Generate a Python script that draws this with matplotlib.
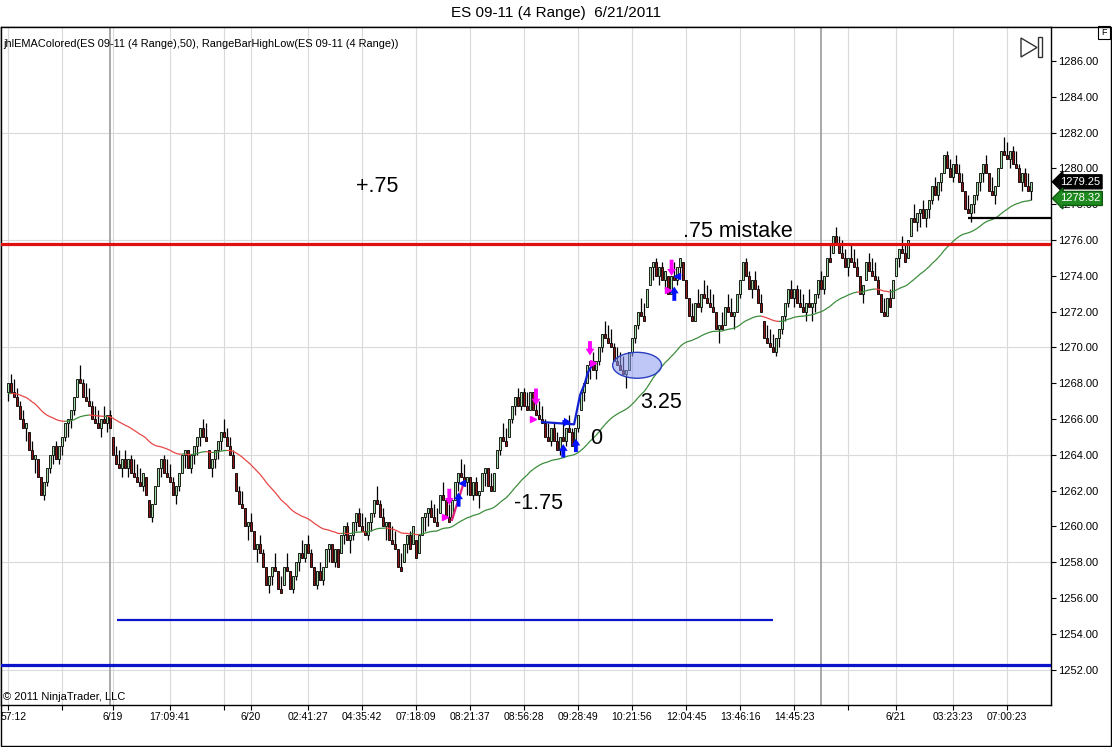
import matplotlib
matplotlib.use('Agg')
import matplotlib.pyplot as plt
import matplotlib.transforms as mtransforms
from matplotlib.collections import LineCollection
from matplotlib.patches import Ellipse, Polygon, Rectangle
import numpy as np

plt.rcParams['font.family'] = ['Liberation Sans', 'DejaVu Sans']

# closes of the 4-tick range bars (one per bar)
closes = [
    1268.0, 1267.5, 1267.25, 1266.75, 1266.0, 1265.5, 1265.75, 1264.25, 1263.75, 1264.0, 1262.75, 1261.75,
    1262.5, 1263.25, 1264.0, 1264.5, 1263.75, 1264.5, 1265.0, 1265.75, 1266.0, 1266.5, 1267.25, 1268.25,
    1268.0, 1267.25, 1267.0, 1266.75, 1266.0, 1265.75, 1265.5, 1266.0, 1265.75, 1266.25, 1265.5, 1264.0,
    1263.5, 1263.25, 1263.75, 1263.25, 1263.75, 1263.0, 1262.75, 1262.5, 1262.25, 1263.0, 1261.75, 1260.5,
    1261.25, 1262.25, 1263.25, 1263.75, 1263.0, 1262.75, 1262.5, 1261.75, 1262.25, 1263.0, 1264.0, 1264.25,
    1263.25, 1264.0, 1264.5, 1265.0, 1265.5, 1265.0, 1264.75, 1263.25, 1263.75, 1264.25, 1264.75, 1265.25,
    1265.0, 1264.5, 1264.0, 1263.25, 1262.0, 1261.25, 1261.0, 1260.0, 1260.25, 1259.75, 1258.75, 1259.0,
    1258.5, 1257.75, 1256.75, 1257.25, 1257.75, 1257.5, 1256.5, 1256.25, 1257.75, 1257.5, 1256.5, 1257.25,
    1258.0, 1258.5, 1258.25, 1259.0, 1258.5, 1257.75, 1256.75, 1257.5, 1257.0, 1257.75, 1258.75, 1259.0,
    1258.0, 1258.75, 1257.75, 1259.5, 1260.0, 1259.25, 1259.5, 1260.25, 1260.75, 1260.0, 1259.75, 1259.5,
    1260.25, 1260.75, 1261.5, 1261.25, 1260.5, 1260.0, 1260.25, 1259.25, 1259.0, 1258.75, 1257.75, 1257.5,
    1259.0, 1259.5, 1258.75, 1260.0, 1258.25, 1259.5, 1260.5, 1260.75, 1261.0, 1260.5, 1260.25, 1260.0,
    1261.75, 1261.5, 1260.5, 1260.25, 1261.5, 1262.5, 1263.0, 1262.75, 1262.5, 1262.75, 1261.75, 1262.5,
    1261.75, 1262.0, 1263.0, 1263.25, 1262.25, 1262.0, 1263.0, 1264.25, 1265.0, 1264.75, 1264.5, 1266.0,
    1266.75, 1267.25, 1266.75, 1267.5, 1266.75, 1266.5, 1267.5, 1266.5, 1266.25, 1266.0, 1265.75, 1265.0,
    1264.75, 1265.5, 1264.75, 1264.25, 1265.0, 1264.75, 1265.5, 1265.25, 1264.5, 1265.5, 1266.25, 1267.5,
    1268.0, 1269.0, 1269.25, 1268.75, 1269.25, 1270.0, 1270.75, 1270.5, 1270.25, 1270.0, 1269.25, 1269.0,
    1268.75, 1268.5, 1268.75, 1269.75, 1270.5, 1271.25, 1272.0, 1271.75, 1271.5, 1273.25, 1274.5, 1274.75,
    1274.0, 1274.5, 1273.75, 1274.25, 1273.0, 1274.0, 1273.75, 1274.5, 1275.0, 1273.75, 1272.75, 1271.75,
    1271.5, 1272.5, 1272.25, 1273.0, 1272.75, 1272.5, 1272.25, 1272.0, 1271.0, 1271.25, 1271.0, 1272.25,
    1272.0, 1271.75, 1272.0, 1273.0, 1273.75, 1274.75, 1274.0, 1273.25, 1273.75, 1273.25, 1272.5, 1272.0,
    1270.5, 1270.25, 1270.0, 1269.75, 1270.5, 1271.0, 1271.75, 1272.5, 1273.25, 1272.75, 1273.25, 1272.5,
    1272.25, 1272.0, 1272.5, 1272.25, 1272.5, 1273.0, 1273.75, 1273.25, 1274.0, 1275.0, 1274.75, 1276.25,
    1275.75, 1275.25, 1275.0, 1274.5, 1275.0, 1274.75, 1274.5, 1274.0, 1273.0, 1273.5, 1274.75, 1274.25,
    1274.0, 1273.75, 1273.0, 1272.0, 1271.75, 1272.75, 1272.25, 1273.75, 1275.0, 1275.5, 1275.25, 1274.75,
    1276.0, 1277.25, 1277.0, 1277.5, 1277.75, 1277.25, 1277.75, 1278.25, 1279.0, 1278.5, 1279.25, 1279.75,
    1280.75, 1280.0, 1279.5, 1280.25, 1279.75, 1279.25, 1278.75, 1277.75, 1277.5, 1278.0, 1278.5, 1279.25,
    1279.75, 1280.25, 1279.75, 1278.75, 1278.5, 1279.0, 1280.0, 1281.0, 1280.75, 1280.5, 1281.0, 1280.25,
    1280.0, 1279.25, 1279.75, 1279.0, 1278.75, 1279.25,
]
assert len(closes) == 342

bar_range = 1.0          # 4 ticks
ema_period = 50
ema_seed = 1267.4        # EMA value at the left edge of the chart
last_ema = 1278.32

tick_bars = [0, 18, 35, 54, 72, 81, 100, 118, 136, 154, 172, 190, 208, 226, 244, 262, 280, 296, 315, 333]
tick_labels = ['57:12', '', '6/19', '17:09:41', '', '6/20', '02:41:27', '04:35:42', '07:18:09',
               '08:21:37', '08:56:28', '09:28:49', '10:21:56', '12:04:45', '13:46:16', '14:45:23',
               '', '6/21', '03:23:23', '07:00:23']
session_breaks = [34, 271]

# drawn levels
red_level = 1275.75
blue_low_level = 1252.25
blue_mid_level = 1254.75
blue_mid_span = [36.3, 255]
black_level = 1277.25
black_start = 320

# ---- bars ----
c = np.array(closes)
n = len(c)
idx = np.arange(n)
prev = np.r_[c[0] - 0.5, c[:-1]]
up = c >= prev
low = np.where(up, c - bar_range, c)
high = low + bar_range
opn = np.clip(prev, low, high)

alpha = 2.0 / (ema_period + 1)
ema = np.empty(n)
e = ema_seed
for k in range(n):
    e = e + alpha * (c[k] - e)
    ema[k] = e

fig = plt.figure(figsize=(11.12, 7.47), dpi=100)
fig.patch.set_facecolor('white')
ax = fig.add_axes([1 / 1112, 42 / 747, 1050 / 1112, 678 / 747])
ax.set_xlim(-2.33, 347.67)
ax.set_ylim(1250.02, 1287.9)

# grid
for gy in np.arange(1252, 1287, 6):
    ax.axhline(gy, color='#dadada', lw=0.8, zorder=0)
for tb in tick_bars:
    ax.axvline(tb, color='#dadada', lw=0.8, zorder=0)
for sb in session_breaks:
    ax.axvline(sb, color='#a8a8a8', lw=1.4, zorder=0.5)

# candles
ax.vlines(idx, low, high, color='black', lw=0.9, zorder=2)
body_bot = np.minimum(opn, c)
body_h = np.maximum(np.abs(c - opn), 0.05)
body_col = np.where(up, '#a8dca8', '#8b1414')
ax.bar(idx, body_h, bottom=body_bot, width=0.7, color=body_col, edgecolor='black',
       linewidth=0.6, zorder=3)

# EMA, red when falling, green when rising
pts = np.column_stack([idx, ema])
segs = np.stack([pts[:-1], pts[1:]], axis=1)
seg_col = ['#3a8c3a' if ema[k + 1] >= ema[k] else '#e84444' for k in range(n - 1)]
ax.add_collection(LineCollection(segs, colors=seg_col, linewidths=0.9, zorder=4))

# levels
ax.axhline(red_level, color='#e01010', lw=2.3, zorder=5)
ax.axhline(blue_low_level, color='#0a14c8', lw=2.3, zorder=5)
ax.hlines(blue_mid_level, blue_mid_span[0], blue_mid_span[1], color='#0a14c8', lw=1.6, zorder=5)
ax.hlines(black_level, black_start, 347.67, color='black', lw=1.6, zorder=5)

# trade markings
ax.add_patch(Ellipse((209.7, 1269.0), 16.3, 1.45, facecolor=(0.55, 0.6, 0.95, 0.55),
                     edgecolor='#2a3fbf', lw=1.0, zorder=6))
ax.plot([178, 188.7, 190.7, 192.3, 193.3, 195], [1265.83, 1265.7, 1267.34, 1268.0, 1268.6, 1269.1],
        color='#1020d0', lw=1.6, zorder=6)
ax.plot([148, 152], [1260.36, 1262.48], color='#e0207a', lw=1.6, zorder=6)


def block_arrow(tail, tip, color):
    ax.annotate('', xy=tip, xytext=tail, zorder=7,
                arrowprops=dict(arrowstyle='simple,head_width=0.9,head_length=0.7,tail_width=0.4',
                                color=color, lw=0, mutation_scale=7, shrinkA=0, shrinkB=0))


mag = '#ff00ff'
blu = '#0010ff'
block_arrow((147.1, 1262.1), (147.1, 1261.2), mag)
block_arrow((150.2, 1261.1), (150.2, 1261.9), blu)
block_arrow((176.0, 1267.7), (176.0, 1266.75), mag)
block_arrow((185.1, 1263.85), (185.1, 1264.6), blu)
block_arrow((189.3, 1264.15), (189.3, 1264.9), blu)
block_arrow((194.0, 1270.35), (194.0, 1269.55), mag)
block_arrow((221.2, 1274.9), (221.2, 1274.0), mag)
block_arrow((222.1, 1272.6), (222.1, 1273.4), blu)
block_arrow((184.8, 1265.83), (187.6, 1265.83), blu)
ax.plot([145.8, 174.9, 195.1, 220.1], [1260.5, 1266.0, 1269.1, 1273.2], ls='none', marker='>',
        ms=5, color=mag, zorder=7)
ax.plot([151.3, 222.9], [1262.4, 1274.0], ls='none', marker='<', ms=5, color=blu, zorder=7)

# hand written notes
note_kw = dict(fontsize=15.5, ha='center', va='center', zorder=8)
ax.text(123, 1279.0, '+.75', **note_kw)
ax.text(243.3, 1276.45, '.75 mistake', **note_kw)
ax.text(217.7, 1266.9, '3.25', **note_kw)
ax.text(196, 1264.9, '0', **note_kw)
ax.text(176.7, 1261.25, '-1.75', **note_kw)

ax.text(0.002, 0.005, '\u00a9 2011 NinjaTrader, LLC', transform=ax.transAxes, fontsize=8,
        ha='left', va='bottom')
ax.text(0.002, 0.982, 'jhlEMAColored(ES 09-11 (4 Range),50), RangeBarHighLow(ES 09-11 (4 Range))',
        transform=ax.transAxes, fontsize=7.9, ha='left', va='top')

# axes
for sp in ax.spines.values():
    sp.set_color('black')
    sp.set_linewidth(1.0)
ax.yaxis.tick_right()
ax.set_yticks(np.arange(1252, 1287, 2))
ax.set_yticklabels(['%.2f' % v for v in np.arange(1252, 1287, 2)])
ax.tick_params(axis='y', direction='out', length=3.5, width=0.8, labelsize=8, pad=1.5)
ax.set_xticks(tick_bars)
ax.set_xticklabels(tick_labels)
ax.tick_params(axis='x', direction='out', length=3.5, width=0.8, labelsize=7.5, pad=1.5)
first = ax.get_xticklabels()[0]
first.set_ha('left')
first.set_transform(first.get_transform() + mtransforms.ScaledTranslation(-5 / 72, 0, fig.dpi_scale_trans))

# price markers on the right axis
bt = mtransforms.blended_transform_factory(ax.transAxes, ax.transData)
ax.text(1.0085, c[-1], '%.2f' % c[-1], transform=bt, color='white', fontsize=8, ha='left', va='center',
        bbox=dict(boxstyle='larrow,pad=0.18', fc='black', ec='black'), zorder=10, clip_on=False)
ax.text(1.0085, last_ema, '%.2f' % last_ema, transform=bt, color='white', fontsize=8, ha='left',
        va='center', bbox=dict(boxstyle='larrow,pad=0.18', fc='#1f8a1f', ec='#0d5a0d'), zorder=10,
        clip_on=False)

# window chrome in pixel coordinates
ov = fig.add_axes([0, 0, 1, 1], zorder=-1)
ov.set_xlim(0, 1112)
ov.set_ylim(747, 0)
ov.axis('off')
ov.add_patch(Rectangle((0.5, 27), 1110.5, 719, fill=False, ec='black', lw=1.0))
fig.text(556 / 1112, 1 - 13 / 747, 'ES 09-11 (4 Range)  6/21/2011', ha='center', va='center', fontsize=11)

top = fig.add_axes([0, 0, 1, 1], zorder=20)
top.set_xlim(0, 1112)
top.set_ylim(747, 0)
top.axis('off')
top.patch.set_alpha(0)
top.add_patch(Polygon([[1021, 38], [1021, 57], [1037, 47.5]], closed=True, fill=False, ec='#333333', lw=1.0))
top.add_patch(Rectangle((1038, 37), 4, 20, fill=False, ec='#333333', lw=1.0))
top.add_patch(Rectangle((1098, 26), 12, 13, fill=False, ec='black', lw=0.8))
top.text(1104, 32.5, 'F', fontsize=6.5, ha='center', va='center')

fig.savefig('out.png', dpi=100, facecolor='white')
